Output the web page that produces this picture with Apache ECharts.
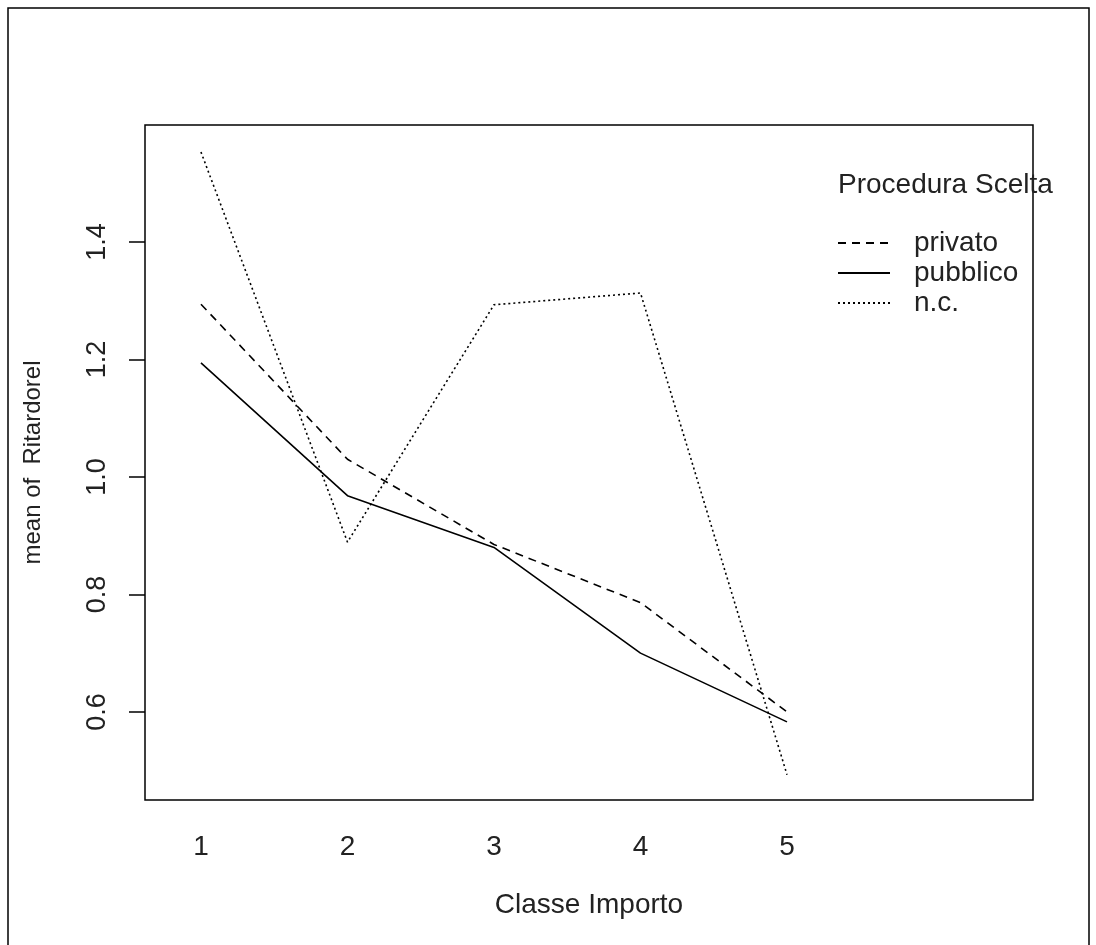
<!DOCTYPE html>
<html>
<head>
<meta charset="utf-8">
<script src="https://cdn.jsdelivr.net/npm/echarts@6/dist/echarts.min.js"></script>
<style>
  html, body { margin: 0; padding: 0; background: #fff; }
  #chart { width: 1096px; height: 945px; }
</style>
</head>
<body>
<div id="chart"></div>
<script>
// classe importo (x levels)
var classi = [1, 2, 3, 4, 5];
// mean of Ritardorel per procedura
var privato = [1.294, 1.03, 0.885, 0.786, 0.60];
var pubblico = [1.194, 0.968, 0.880, 0.700, 0.583];
var nc = [1.553, 0.889, 1.293, 1.313, 0.493];
var yTicks = [0.6, 0.8, 1.0, 1.2, 1.4];

var FONT = 'Liberation Sans, Arial, sans-serif';
var FS = 28;

function pairs(vals) {
  return classi.map(function (c, i) { return [c, vals[i]]; });
}

function lineSeries(name, vals, dash) {
  return {
    name: name,
    type: 'line',
    data: pairs(vals),
    symbol: 'none',
    lineStyle: { color: '#000', width: 1.6, type: dash },
    itemStyle: { color: '#000' },
  };
}

var chart = echarts.init(document.getElementById('chart'));
chart.setOption({
  animation: false,
  backgroundColor: '#fff',
  textStyle: { fontFamily: FONT, color: '#000' },
  grid: {
    left: 145,
    top: 125,
    right: 63,
    bottom: 145,
    show: true,
    borderColor: '#000',
    borderWidth: 1.5,
  },
  graphic: [{
    type: 'rect',
    shape: { x: 8, y: 8, width: 1081, height: 960 },
    style: { fill: 'none', stroke: '#000', lineWidth: 1.5 },
    silent: true,
  }],
  title: {
    text: 'Procedura Scelta',
    left: 833,
    top: 166,
    textStyle: { fontFamily: FONT, fontSize: FS, fontWeight: 'normal', color: '#222' },
  },
  legend: {
    orient: 'vertical',
    left: 837,
    top: 229,
    padding: 0,
    itemWidth: 52,
    itemHeight: 14,
    itemGap: 2,
    data: ['privato', 'pubblico', 'n.c.'],
    itemStyle: { opacity: 0 },
    textStyle: { fontFamily: FONT, fontSize: FS, lineHeight: 28, color: '#222', padding: [0, 0, 0, 19] },
  },
  xAxis: {
    type: 'value',
    min: 0.618,
    max: 6.679,
    name: 'Classe Importo',
    nameLocation: 'middle',
    nameGap: 91,
    nameTextStyle: { fontFamily: FONT, fontSize: FS, color: '#222' },
    axisLine: { show: false },
    axisTick: { show: false },
    splitLine: { show: false },
    axisLabel: {
      customValues: classi,
      margin: 33,
      fontFamily: FONT,
      fontSize: FS,
      color: '#222',
    },
  },
  yAxis: {
    type: 'value',
    min: 0.45,
    max: 1.599,
    name: 'mean of  Ritardorel',
    nameLocation: 'middle',
    nameRotate: 90,
    nameGap: 100,
    nameTextStyle: { fontFamily: FONT, fontSize: 24, color: '#222' },
    axisLine: { show: false },
    splitLine: { show: false },
    axisTick: {
      show: true,
      customValues: yTicks,
      length: 16,
      lineStyle: { color: '#000', width: 1.5 },
    },
    axisLabel: {
      customValues: yTicks,
      rotate: 90,
      margin: 34,
      fontFamily: FONT,
      fontSize: 27,
      color: '#222',
      formatter: function (v) { return v.toFixed(1); },
    },
  },
  series: [
    lineSeries('privato', privato, [8, 6]),
    lineSeries('pubblico', pubblico, 'solid'),
    lineSeries('n.c.', nc, [2, 3]),
  ],
});
</script>
</body>
</html>
